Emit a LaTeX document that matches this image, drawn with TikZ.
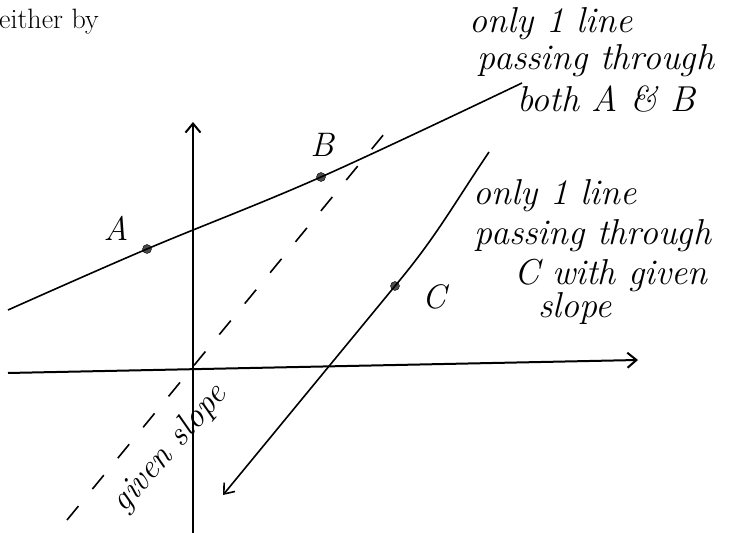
\documentclass[tikz,border=0pt]{standalone}
\usepackage{tikz}
\usetikzlibrary{arrows.meta,positioning,calc}
\tikzset{
  axis/.style={-{Straight Barb[length=9pt,width=15pt]}, line width=2pt, black},
  sline/.style={line width=1.6pt, black},
  backarr/.style={arrows={Straight Barb[length=9pt,width=14pt]-}},
  dashln/.style={line width=1.6pt, black, dash pattern=on 18pt off 22pt},
  dot/.style={circle, draw=black, fill=black!70, minimum size=9pt, inner sep=0pt},
  hand/.style={font=\fontsize{36}{40}\selectfont\itshape, inner sep=0pt, anchor=base},
  ptlab/.style={font=\fontsize{34}{40}\selectfont\itshape, inner sep=0pt},
}

\begin{document}
\begin{tikzpicture}[x=1pt,y=1pt]
\useasboundingbox (0,0) rectangle (732,533);
% --- printed text cut off at the left ---
\node[font=\fontsize{28}{32}\selectfont, anchor=base west, inner sep=0pt] (prev) at (-1,504) {either by};
% --- axes ---
\coordinate (xl) at (8,160);
\coordinate (xr) at (638,173);
\coordinate (yb) at (193,0);
\coordinate (yt) at (193,411);
\draw[axis] (xl) -- (xr);
\draw[axis] (yb) -- (yt);
% --- the three points ---
\node[dot] (A) at (147,284) {};
\node[dot] (B) at (321,356) {};
\node[dot] (C) at (395,247) {};
\node[ptlab] (Alab) at (116,305) {A};
\node[ptlab] (Blab) at (322,388) {B};
\node[ptlab] (Clab) at (434,236) {C};
% --- line through A and B ---
\coordinate (abL) at (8,223);
\coordinate (abR) at (522,450);
\draw[sline] plot[smooth, tension=0.6] coordinates {(abL) (A.center) (B.center) (abR)};
% --- line through C with the given slope ---
\coordinate (cLo) at (223,38);
\coordinate (cTop) at (489,381);
\draw[sline, backarr] (cLo) -- (C.center) to[out=50, in=236] (cTop);
% --- dashed line with the given slope ---
\coordinate (dLo) at (67,13);
\coordinate (dHi) at (389,405);
\draw[dashln] (dLo) -- (dHi);
\node[hand, anchor=center, font=\fontsize{34}{38}\selectfont\itshape, rotate=49] (gs) at (170,84) {given slope};
% --- note for the line through A and B ---
\node[hand] (n1a) at (551,500) {only 1 line};
\node[hand] (n1b) at (596,463) {passing through};
\node[hand] (n1c) at (606,421) {both A \& B};
% --- note for the line through C ---
\node[hand] (n2a) at (555,328) {only 1 line};
\node[hand] (n2b) at (593,288) {passing through};
\node[hand] (n2c) at (611,248) {C with given};
\node[hand] (n2d) at (575,215) {slope};
\end{tikzpicture}
\end{document}
